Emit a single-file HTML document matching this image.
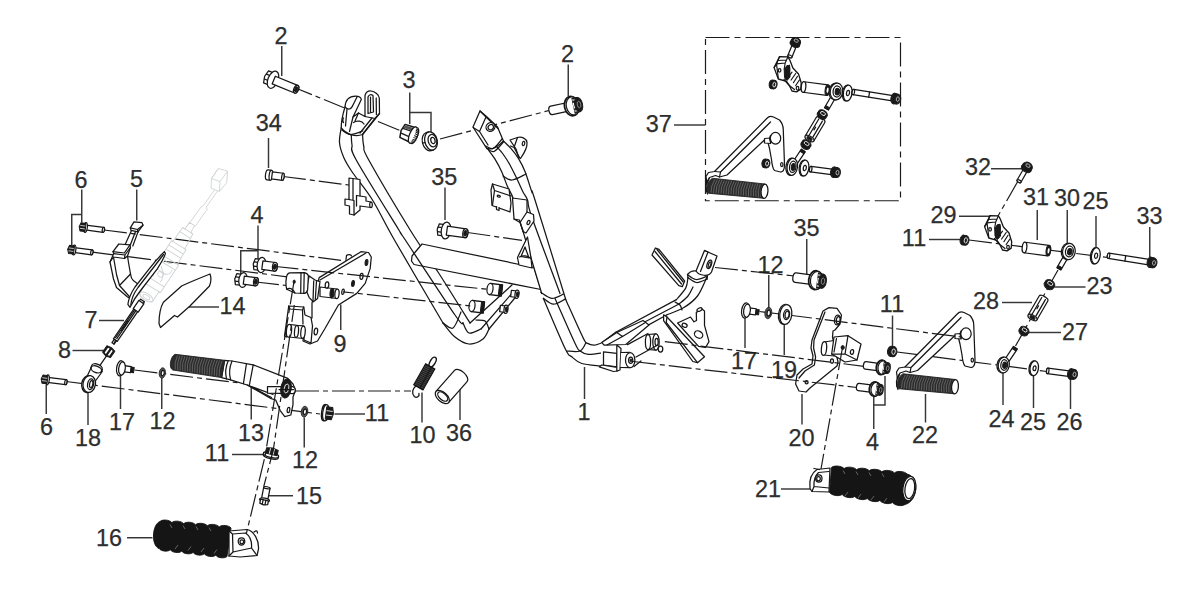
<!DOCTYPE html>
<html><head><meta charset="utf-8"><title>Frame parts diagram</title>
<style>
html,body{margin:0;padding:0;background:#fff;}
body{width:1184px;height:599px;overflow:hidden;font-family:"Liberation Sans",sans-serif;}
svg{display:block}
.t{font-family:"Liberation Sans",sans-serif;font-size:23.4px;fill:#2e2e2e;stroke:#2e2e2e;stroke-width:0.25;text-anchor:middle;}
.l{fill:none;stroke:#363636;stroke-width:1.45}
.c{fill:none;stroke:#1c1c1c;stroke-width:1.2;stroke-dasharray:23 4 5 4}
.p{fill:none;stroke:#161616;stroke-width:1.25;stroke-linejoin:round;stroke-linecap:round}
.pf{fill:#fff;stroke:#161616;stroke-width:1.25;stroke-linejoin:round;stroke-linecap:round}
.pd{fill:#1a1a1a;stroke:#1a1a1a;stroke-width:1;stroke-linejoin:round}
.pg{fill:#555;stroke:#222;stroke-width:0.85;stroke-linejoin:round}
.gh{fill:none;stroke:#cfd2d4;stroke-width:0.9;stroke-linejoin:round}
.ghf{fill:#fff;stroke:#cfd2d4;stroke-width:0.9;stroke-linejoin:round}
</style></head>
<body>
<svg width="1184" height="599" viewBox="0 0 1184 599">
<rect width="1184" height="599" fill="#fff"/>
<text x="281" y="43.6" class="t">2</text>
<text x="268.75" y="131.1" class="t">34</text>
<text x="409" y="88.1" class="t">3</text>
<text x="567.5" y="61.6" class="t">2</text>
<text x="658.75" y="131.6" class="t">37</text>
<text x="444.25" y="184.6" class="t">35</text>
<text x="806.5" y="235.6" class="t">35</text>
<text x="943.5" y="222.6" class="t">29</text>
<text x="914" y="246.1" class="t">11</text>
<text x="978" y="175.1" class="t">32</text>
<text x="1036" y="205.1" class="t">31</text>
<text x="1067" y="205.6" class="t">30</text>
<text x="1095.5" y="209.1" class="t">25</text>
<text x="1149.5" y="223.6" class="t">33</text>
<text x="1099.5" y="293.6" class="t">23</text>
<text x="986" y="308.6" class="t">28</text>
<text x="1075" y="339.6" class="t">27</text>
<text x="892" y="311.6" class="t">11</text>
<text x="770.5" y="273.1" class="t">12</text>
<text x="744" y="369.1" class="t">17</text>
<text x="784" y="377.6" class="t">19</text>
<text x="801.5" y="445.6" class="t">20</text>
<text x="872.5" y="450.1" class="t">4</text>
<text x="925" y="443.1" class="t">22</text>
<text x="768" y="496.6" class="t">21</text>
<text x="1001.5" y="426.6" class="t">24</text>
<text x="1033" y="430.1" class="t">25</text>
<text x="1069.5" y="430.1" class="t">26</text>
<text x="81" y="187.6" class="t">6</text>
<text x="136.5" y="187.1" class="t">5</text>
<text x="257" y="223.1" class="t">4</text>
<text x="232.5" y="314.1" class="t">14</text>
<text x="91" y="327.6" class="t">7</text>
<text x="64.5" y="357.6" class="t">8</text>
<text x="46.5" y="434.6" class="t">6</text>
<text x="88" y="445.6" class="t">18</text>
<text x="122" y="429.6" class="t">17</text>
<text x="162.5" y="428.6" class="t">12</text>
<text x="251" y="440.6" class="t">13</text>
<text x="377" y="421.1" class="t">11</text>
<text x="305" y="467.6" class="t">12</text>
<text x="217" y="461.1" class="t">11</text>
<text x="422.5" y="443.1" class="t">10</text>
<text x="459" y="440.6" class="t">36</text>
<text x="309" y="504.1" class="t">15</text>
<text x="109" y="545.6" class="t">16</text>
<text x="340" y="351.6" class="t">9</text>
<text x="584" y="420.1" class="t">1</text>
<path d="M281.75,46 L281.75,76" class="l"/>
<path d="M268.5,138 L268.5,168" class="l"/>
<path d="M409.75,92.5 L409.75,124" class="l"/>
<path d="M409.75,112.5 L431,112.5 L431,132" class="l"/>
<path d="M568.25,64.5 L568.25,96" class="l"/>
<path d="M674,125 L705.5,125" class="l"/>
<path d="M445,187.5 L445,220" class="l"/>
<path d="M806.75,239 L806.75,274" class="l"/>
<path d="M959,216.25 L990.5,216.25" class="l"/>
<path d="M929,239.5 L960,239.5" class="l"/>
<path d="M991,168.75 L1023,168.75" class="l"/>
<path d="M1037.25,210 L1037.25,240" class="l"/>
<path d="M1067.25,210 L1067.25,244.5" class="l"/>
<path d="M1096,216 L1096,249" class="l"/>
<path d="M1149.75,227 L1149.75,257" class="l"/>
<path d="M1054,287 L1085.5,287" class="l"/>
<path d="M1002,302.5 L1032,302.5" class="l"/>
<path d="M1029,332.5 L1061,332.5" class="l"/>
<path d="M892.5,315.5 L892.5,346" class="l"/>
<path d="M768.75,275 L768.75,308" class="l"/>
<path d="M745,318 L745,348" class="l"/>
<path d="M784.25,325 L784.25,355" class="l"/>
<path d="M802,394 L802,424.5" class="l"/>
<path d="M873.75,397 L873.75,429" class="l"/>
<path d="M873.75,405 L885,405 L885,376" class="l"/>
<path d="M925.5,394 L925.5,422.5" class="l"/>
<path d="M781,489 L811,489" class="l"/>
<path d="M1003,372.5 L1003,405" class="l"/>
<path d="M1033.5,376 L1033.5,408" class="l"/>
<path d="M1070.5,379 L1070.5,409" class="l"/>
<path d="M81.75,189.5 L81.75,222.5" class="l"/>
<path d="M81.75,214.5 L71.75,214.5 L71.75,245" class="l"/>
<path d="M136.75,189.5 L136.75,220.5" class="l"/>
<path d="M258,225.5 L258,259" class="l"/>
<path d="M258,250.75 L240.75,250.75 L240.75,274" class="l"/>
<path d="M187.5,307 L219,307" class="l"/>
<path d="M99,320.5 L124,320.5" class="l"/>
<path d="M72.5,350.5 L104,350.5" class="l"/>
<path d="M46.25,385 L46.25,414" class="l"/>
<path d="M88,392.5 L88,425" class="l"/>
<path d="M120.5,376 L120.5,409" class="l"/>
<path d="M161.75,378 L161.75,409" class="l"/>
<path d="M251.25,386 L251.25,419.5" class="l"/>
<path d="M334.5,414 L365,414" class="l"/>
<path d="M304.25,417.5 L304.25,447.5" class="l"/>
<path d="M232,454.5 L264,454.5" class="l"/>
<path d="M422,392.5 L422,422.5" class="l"/>
<path d="M460,389 L460,420" class="l"/>
<path d="M267,495.75 L293,495.75" class="l"/>
<path d="M127,537.75 L152.5,537.75" class="l"/>
<path d="M340.75,304.5 L340.75,330" class="l"/>
<path d="M584.5,367 L584.5,399" class="l"/>
<path d="M705.5,37.5 H900.5 V200.75 H705.5 Z" class="c" style="stroke-dasharray:24 5 6 5"/>
<path d="M298,89 L344,107.7" class="c" stroke-dashoffset="8"/>
<path d="M378,121.5 L402,131.3" class="c" stroke-dashoffset="0"/>
<path d="M440,139 L551,110" class="c" stroke-dashoffset="0"/>
<path d="M283,176.5 L349,185" class="c" stroke-dashoffset="0"/>
<path d="M467.5,232.5 L522,240.3" class="c" stroke-dashoffset="0"/>
<path d="M104,230 L346,261" class="c" stroke-dashoffset="0"/>
<path d="M92.4,252.2 L287,276.8" class="c" stroke-dashoffset="0"/>
<path d="M256,282 L287,285.5" class="c" stroke-dashoffset="0"/>
<path d="M66,381.5 L320,414" class="c" stroke-dashoffset="0"/>
<path d="M134.5,370 L268,386.5" class="c" stroke-dashoffset="0"/>
<path d="M296,391 L411,391" class="c" stroke-dashoffset="0"/>
<path d="M715,267.5 L794.5,276" class="c" stroke-dashoffset="0"/>
<path d="M897,352 L1047,371.5" class="c" stroke-dashoffset="0"/>
<path d="M969,240 L1108,257.5" class="c" stroke-dashoffset="0"/>
<path d="M1018,181 L998,216" class="c" stroke-dashoffset="0"/>
<path d="M1058,270 L1015.5,346" class="c" stroke-dashoffset="0"/>
<path d="M759.5,311.5 L780,314" class="c" stroke-dashoffset="0"/>
<path d="M341.25,127.5 C341.0,130.0 339.1,137.5 339.5,142.5 C339.9,147.5 341.6,152.5 343.75,157.5 C345.9,162.5 347.7,165.4 352.5,172.5 C357.3,179.6 365.4,188.6 372.5,200 C379.6,211.4 383.2,220.5 395,241 C406.8,261.5 435.0,309.3 443,323 L470,323 C464.7,314.5 448.0,287.5 438,272 C428.0,256.5 421.5,248.4 410,229.75 C398.5,211.1 376.5,173.9 368.75,160 C361.0,146.1 364.8,150.6 363.75,146.25 C362.7,141.9 362.7,135.8 362.5,133.75 Z" class="pf" style="stroke:none"/>
<path d="M443,323 C450,336 460,344 469,344 C478,344 486,338 489,329 L519,293 L512,285 L470,323 Z" class="pf" style="stroke:none"/>
<path d="M362.5,133.75 C362.7,135.8 362.7,141.9 363.75,146.25 C364.8,150.6 361.0,146.1 368.75,160 C376.5,173.9 398.5,211.1 410,229.75 C421.5,248.4 428.0,256.5 438,272 C448.0,287.5 464.7,314.5 470,323" class="p" />
<path d="M422,244 L412,256 L411.5,261 L414,264.5 L541,289.5 L534,267.5 Z" class="pf" />
<path d="M341.25,127.5 C341.0,130.0 339.1,137.5 339.5,142.5 C339.9,147.5 341.6,152.5 343.75,157.5 C345.9,162.5 347.7,165.4 352.5,172.5 C357.3,179.6 365.4,188.6 372.5,200 C379.6,211.4 383.2,220.5 395,241 C406.8,261.5 435.0,309.3 443,323" class="p" />
<path d="M351.25,133.75 C351.4,135.6 351.2,140.6 352,145 C352.8,149.4 348.5,145.9 356.25,160 C364.0,174.1 390.8,216.8 398.75,229.75 C406.7,242.8 394.6,223.8 404,238 C413.4,252.2 445.2,300.8 455,315 C464.8,329.2 461.7,321.7 463,323" class="p" />
<path d="M443,323 C445.0,325.3 450.7,333.5 455,337 C459.3,340.5 464.3,343.7 469,344 C473.7,344.3 479.7,341.5 483,339 C486.3,336.5 488.0,330.7 489,329" class="p" />
<path d="M463,323 C464.0,324.7 466.0,332.0 469,333 C472.0,334.0 479.0,329.7 481,329" class="p" />
<path d="M443,323 C444.7,323.8 450.0,329.8 453,328 C456.0,326.2 459.7,314.7 461,312" class="p" />
<path d="M476,320 C477.5,320.2 482.8,319.5 485,321 C487.2,322.5 488.3,327.7 489,329" class="p" />
<path d="M470,323 L512,285" class="p" />
<path d="M489,329 L519,293" class="p" />
<path d="M481,329 L514,291" class="p" />
<g transform="translate(490 289) rotate(7)">
<path d="M0,-5.6 L12,-5.6 L12,5.6 L0,5.6 Z" class="pf" />
<path d="M9,-5.6 L12,-5.6 L12,5.6 L9,5.6 Z" class="pd" />
<ellipse cx="0" cy="0" rx="3" ry="5.6" class="pf" />
</g>
<g transform="translate(472 306) rotate(7)">
<path d="M0,-5.6 L12,-5.6 L12,5.6 L0,5.6 Z" class="pf" />
<path d="M9,-5.6 L12,-5.6 L12,5.6 L9,5.6 Z" class="pd" />
<ellipse cx="0" cy="0" rx="3" ry="5.6" class="pf" />
</g>
<g transform="translate(515 294) rotate(7)">
<path d="M-4,-3.2 L2,-3.2 L2,3.2 L-4,3.2 Z" class="pf" />
<ellipse cx="2" cy="0" rx="2" ry="4.2" class="pf" />
<ellipse cx="2.4" cy="0" rx="1.1" ry="2.4" class="pd" />
</g>
<g transform="translate(504 309) rotate(7)">
<path d="M-4,-3.2 L2,-3.2 L2,3.2 L-4,3.2 Z" class="pf" />
<ellipse cx="2" cy="0" rx="2" ry="4.2" class="pf" />
<ellipse cx="2.4" cy="0" rx="1.1" ry="2.4" class="pd" />
</g>
<path d="M488.4,150 C489.5,151.5 492.8,155.6 495,159.2 C497.2,162.8 499.6,167.2 501.7,171.8 C503.8,176.4 505.6,182.1 507.6,186.8 C509.6,191.5 510.7,191.1 513.7,200 C516.7,208.9 520.9,224.4 525.6,240 C530.3,255.6 539.0,284.6 541.7,293.5 L565.9,300 C560.8,283.3 540.7,218.0 535,200 C529.3,182.0 533.4,196.5 531.8,191.8 C530.1,187.1 527.3,177.4 525.1,171.8 C522.9,166.2 520.8,162.3 518.4,158.4 C516.0,154.5 513.4,151.3 510.9,148.4 C508.4,145.5 504.6,142.2 503.4,140.9 Z" class="pf" style="stroke:none"/>
<path d="M488.4,150 C489.5,151.5 492.8,155.6 495,159.2 C497.2,162.8 499.6,167.2 501.7,171.8 C503.8,176.4 505.6,182.1 507.6,186.8 C509.6,191.5 510.7,191.1 513.7,200 C516.7,208.9 520.9,224.4 525.6,240 C530.3,255.6 539.0,284.6 541.7,293.5" class="p" />
<path d="M503.4,140.9 C504.6,142.2 508.4,145.5 510.9,148.4 C513.4,151.3 516.0,154.5 518.4,158.4 C520.8,162.3 522.9,166.2 525.1,171.8 C527.3,177.4 530.1,187.1 531.8,191.8 C533.4,196.5 529.3,182.0 535,200 C540.7,218.0 560.8,283.3 565.9,300" class="p" />
<path d="M496,146 C497.2,147.3 500.7,150.8 503,154 C505.3,157.2 507.7,160.8 510,165 C512.3,169.2 514.8,174.5 517,179 C519.2,183.5 521.2,188.5 523,192 C524.8,195.5 526.0,195.9 527.5,200 C529.0,204.1 526.3,201.1 531.7,216.7 C537.1,232.3 555.3,280.7 560,293.5" class="p" />
<path d="M503,176 C504.5,176.7 508.2,180.3 512,180 C515.8,179.7 523.7,175.0 526,174" class="p" />
<path d="M543.4,298.4 C547.0,306.7 560.4,338.7 565.1,348.4 C569.8,358.1 568.9,354.3 571.7,356.8 C574.5,359.3 577.1,362.0 581.8,363.5 C586.5,365.0 597.0,365.6 600.1,366 L602.6,342.6 C601.2,343.0 596.8,345.0 594.3,345.1 C591.8,345.2 589.4,344.5 587.6,343.4 C585.8,342.3 587.0,345.6 583.4,338.4 C579.8,331.2 568.8,306.4 565.9,300 Z" class="pf" style="stroke:none"/>
<path d="M543.4,298.4 C547.0,306.7 560.4,338.7 565.1,348.4 C569.8,358.1 568.9,354.3 571.7,356.8 C574.5,359.3 577.1,362.0 581.8,363.5 C586.5,365.0 597.0,365.6 600.1,366" class="p" />
<path d="M565.9,300 C568.8,306.4 579.8,331.2 583.4,338.4 C587.0,345.6 585.8,342.3 587.6,343.4 C589.4,344.5 591.8,345.2 594.3,345.1 C596.8,345.0 601.2,343.0 602.6,342.6" class="p" />
<path d="M555,298.4 C558.4,305.9 570.9,334.6 575.1,343.4 C579.3,352.2 577.9,349.2 580.1,351 C582.3,352.8 584.5,354.0 588.4,354.3 C592.3,354.6 601.0,352.9 603.5,352.6" class="p" />
<path d="M540.9,292.5 C542.7,293.5 548.0,298.1 551.7,298.4 C555.5,298.7 561.5,294.9 563.4,294.2" class="p" />
<path d="M543.4,298.4 C545.1,299.4 549.8,304.1 553.4,304.2 C557.0,304.3 563.1,300.0 565,299.2" class="p" />
<path d="M566.7,351 C568.9,351.0 576.8,352.4 580,351 C583.2,349.6 585.0,344.0 586,342.6" class="p" />
<path d="M601,343 L615.7,332.3 L676.4,299.6 L685.8,287.9 L688,277.4 L706.8,277.4 L697.5,296 L683.5,307.8 L667,314.8 L620,342 L601,366 Z" class="pf" style="stroke:none"/>
<path d="M601.7,342.8 L615.7,332.3" class="p" />
<path d="M615.7,332.3 L676.4,299.6" class="p" />
<path d="M676.4,299.6 C678.0,297.7 683.9,291.6 685.8,287.9 C687.7,284.2 687.6,279.1 688,277.4" class="p" />
<path d="M643.7,327.6 L667,314.8" class="p" />
<path d="M667,314.8 C669.8,313.6 678.4,310.9 683.5,307.8 C688.6,304.7 693.6,301.1 697.5,296 C701.4,290.9 705.2,280.5 706.8,277.4" class="p" />
<path d="M618,336 L679,304" class="p" />
<path d="M679,304 C680.5,302.7 685.7,298.8 688,296 C690.3,293.2 692.2,288.5 693,287" class="p" />
<path d="M675,302 C675.8,302.5 678.8,303.7 680,305 C681.2,306.3 681.7,309.2 682,310" class="p" />
<path d="M341.3,128 C341,120 343.5,112 345,107 C345.5,99 350,96 355.5,96 C359,96 361,97.5 361.3,99.4 L353,117 L358.5,113 L365,116.5 L365,95.5 C366,92 368.5,90.8 371,91 C375,91.5 379,95 379.3,98 L379.5,113.5 L362.5,134.5 C356,137 347,135 341.3,128 Z" class="pf" />
<path d="M345,107 C348,110 351,110 353,105 L357,97" class="p" />
<path d="M353,117 L349.5,131.5 M358.5,113 L355,121 M347,109 L345.5,126" class="p" />
<path d="M368,113.5 L368,97 C369,94.5 371,94 373,95.5 L373.5,112 M370.5,112 L370.5,97 M376.2,98 L376.4,114.5 M365,116.5 L375,118.5 L379.5,113.5 M373.5,112 L368,113.5" class="p" />
<path d="M353.5,122.5 C357,120 362,121 364,124 M362.5,134.5 L375,118.5 M360,133 L372,118" class="p" />
<path d="M341.8,130 C343.2,130.8 346.5,134.3 350,134.5 C353.5,134.7 360.7,131.6 362.8,131" class="p" />
<path d="M343.5,118 C342.5,119.5 342.5,121.5 343.5,122.5" class="p" />
<path d="M349,178 L360,179.5 L360,196 L366,197 L366,201 L371,202 L371,207.5 L360,206 L360,210 L354,215 L349.5,214 L349.5,206 L345,205 L345,199 L349,199.5 Z" class="pf" />
<path d="M353,178.7 L353,200 M349,199.5 L354,200.5 L354,215 M360,196 L356.5,195.5 L356.5,206" class="p" />
<ellipse cx="371" cy="204.8" rx="1.3" ry="2.8" class="pf" />
<path d="M480,111 L473,127 L475.5,131 L486.7,148.4 C492,150.5 499,146 503.4,140.9 L497.5,127 L486.5,116.5 Z" class="pf" />
<path d="M480,111 L486,117 L479.5,131.5 L473.2,127.5 M479.5,131.5 L488,145 M486,117 L498,128.5" class="p" />
<ellipse cx="490.5" cy="127" rx="4.6" ry="4.2" class="pf" transform="rotate(-35 490.5 127)" />
<ellipse cx="490.8" cy="127.2" rx="2.8" ry="2.5" class="p" transform="rotate(-35 490.8 127.2)" />
<path d="M485.5,146 C486.8,146.4 490.2,149.7 493,148.5 C495.8,147.3 500.5,140.6 502,139" class="p" />
<path d="M486.7,148.4 C487.9,148.9 491.1,152.7 494,151.5 C496.9,150.3 502.2,143.2 503.8,141.5" class="p" />
<path d="M510,140 L517.5,137.5 C522,136.5 526.5,138.5 527,142.5 C527.5,147 525,152 520.5,158.5 L518.5,157 L516,149 Z" class="pf" />
<path d="M517.5,137.5 L514,147.5 L519.5,157.5 M514,147.5 L510.5,146" class="p" />
<ellipse cx="523.5" cy="143.5" rx="1.2" ry="2.2" class="pf" transform="rotate(15 523.5 143.5)" />
<path d="M492.5,184 L509,189 L511,203 L510,212 L492,205.5 L491,190 Z" class="pf" />
<path d="M492.5,184 L494.5,190.5 L511,196 M494.5,190.5 L492.5,205" class="p" />
<ellipse cx="498.8" cy="196.2" rx="1.6" ry="0.9" class="p" transform="rotate(10 498.8 196.2)" />
<path d="M496.5,206.5 L496.5,209.5 L499,210.5 L499,207.5" class="pf" />
<path d="M512.5,198 L527,200 L527,212 L533.5,214.5 L534,221 L526,233 L523,231.5 L519.5,220 L514,219 Z" class="pf" />
<path d="M527,212 L520,222.5 L523.5,232 M520,222.5 L514,219" class="p" />
<ellipse cx="528.5" cy="222.5" rx="1.3" ry="2.2" class="pf" transform="rotate(25 528.5 222.5)" />
<path d="M527.5,237 L517.5,257.5 L519,265 L532,268 L531,258 Z" class="pf" />
<path d="M525,247 L521,256.5 L529,258 Z M519.5,257 C523,255 528,255.5 531,258.5" class="p" />
<path d="M696,271 L704.5,250.5 L717,256 L711.5,272 C709,277 699,276 696,271 Z" class="pf" />
<path d="M704.5,250.5 L708,252 L700.5,271.5" class="p" />
<ellipse cx="709.3" cy="264.3" rx="2.1" ry="4.4" class="pf" transform="rotate(20 709.3 264.3)" />
<ellipse cx="709.6" cy="264.6" rx="1.1" ry="2.8" class="p" transform="rotate(20 709.6 264.6)" />
<path d="M687.5,274.5 C688.9,275.3 692.7,279.2 696,279.5 C699.3,279.8 705.6,276.6 707.5,276" class="p" />
<path d="M688,277.6 C689.4,278.4 693.3,282.2 696.5,282.5 C699.7,282.8 705.2,279.8 707,279.2" class="p" />
<path d="M687.5,274.5 C690,271.5 693,270.5 696,271 M707.5,276 L707,279.2 M687.5,274.5 L688,277.6" class="p" />
<path d="M652,255 L655.4,248 L659,249.3 L684.6,281 L682.3,286.7 L678.8,285.6 Z" class="pf" />
<path d="M655,251.5 L681.5,284 M657,249.5 L683.2,282" class="p" />
<path d="M677.6,323 L690.5,317 L694,321.8 L696.5,320.5 L696.3,312.4 L702,309 L704.5,311 L704.5,325.3 L709,341.6 L705.6,347.5 L698.6,346.3 L690,337 Z" class="pf" />
<ellipse cx="699.5" cy="309.6" rx="2.7" ry="1.5" class="pf" transform="rotate(-25 699.5 309.6)" />
<ellipse cx="684.6" cy="325.3" rx="2.6" ry="1.9" class="p" transform="rotate(25 684.6 325.3)" />
<ellipse cx="698.6" cy="334.6" rx="4.4" ry="3.4" class="p" transform="rotate(30 698.6 334.6)" />
<path d="M663.6,314.8 L667,317 L704.5,356.8 L697.5,362.7 L692.8,361.5 L663.6,320.6 Z" class="pf" />
<path d="M667,317 L666.2,322.5 L697.5,362.7" class="p" />
<path d="M648,334.5 L656,333.8 L656,350.2 L648,349.5 Z" class="pf" />
<ellipse cx="648" cy="342" rx="2.6" ry="7.5" class="pf" />
<ellipse cx="656" cy="342" rx="3.2" ry="8.2" class="pf" />
<ellipse cx="656.6" cy="342" rx="1.6" ry="3.6" class="p" />
<ellipse cx="660.5" cy="349" rx="2.3" ry="3" class="pf" />
<path d="M601.8,342.6 L616.8,332.5 L643,320.5 L649,325 L625.8,344.5 L604.3,345.2 Z" class="pf" />
<path d="M616.8,332.5 L622.5,336.5 L644.5,323 M622.5,336.5 L607,345" class="p" />
<path d="M603.5,351.8 L616.8,353.4 L616.8,366.8 L603.5,365.1 Z" class="pf" />
<path d="M599.3,366.8 L601.8,365 L618.5,367.6 L617.6,371 L613.5,371.5 Z" class="pf" />
<path d="M616.8,345 L621,348.4 L620,370 L616.8,371 Z" class="pf" />
<path d="M621,352.5 L630,352.3 L630,367.6 L620.5,367.5" class="pf" />
<ellipse cx="630.2" cy="360.1" rx="4.7" ry="7.6" class="pf" />
<ellipse cx="630.7" cy="360.3" rx="2.1" ry="3.2" class="p" />
<ellipse cx="630.9" cy="360.4" rx="0.9" ry="1.4" class="pd" />
<path d="M627.5,344.6 L648,333.5 M636,357 L656,346 M634,366.5 L641,361" class="p" />
<g transform="translate(273 79.7) rotate(22.4)">
<path d="M0,-6.5 L-7.5,-6.5 L-9.06,0 L-7.5,6.5 L0,6.5 Z" class="pf" />
<path d="M0,-2.6 L-8.15,-2.6 M0,2.6 L-8.15,2.6" class="p" />
<ellipse cx="0" cy="0" rx="5.040000000000001" ry="9.0" class="pf" />
<path d="M0.82,-4.1 L25,-4.1 A2.296,4.1 0 0 1 25,4.1 L0.82,4.1 Z" class="pf" />
<ellipse cx="25" cy="0" rx="2.296" ry="4.1" class="pf" />
<ellipse cx="25" cy="0" rx="1.3776" ry="2.4599999999999995" class="pd" />
</g>
<g transform="translate(573.5 105.7) rotate(168)">
<path d="M0,-4.3 L22.5,-4.3 A2.5799999999999996,4.3 0 0 1 22.5,4.3 L0,4.3 Z" class="pf" />
<ellipse cx="2" cy="0" rx="7.02" ry="9.75" class="pf" style="stroke-width:1.8"/>
<ellipse cx="0.6" cy="0" rx="6.630000000000001" ry="9.165" class="pf" style="stroke-width:1.2"/>
<path d="M0,-7.800000000000001 L-5.265000000000001,-7.176000000000001 L-5.265000000000001,7.176000000000001 L0,7.800000000000001 Z" class="pd" />
<path d="M0.2,-2.8080000000000003 L-4.875,-2.6520000000000006 L-4.875,2.6520000000000006 L0.2,2.8080000000000003 Z" fill="#fff"/>
<path d="M0.2,-6.630000000000001 L-3.9000000000000004,-6.240000000000001 L-3.9000000000000004,-4.290000000000001 L0.2,-4.524 Z M0.2,6.630000000000001 L-3.9000000000000004,6.240000000000001 L-3.9000000000000004,4.290000000000001 L0.2,4.524 Z" fill="#999"/>
<ellipse cx="-5.265000000000001" cy="0" rx="3.9000000000000004" ry="7.254000000000001" class="pd" />
<ellipse cx="-5.654999999999999" cy="0" rx="1.755" ry="3.2760000000000002" fill="none" stroke="#999" stroke-width="0.8"/>
</g>
<g transform="translate(409 133.5) rotate(22)">
<path d="M-7,-7 L3.5,-7.8 L3.5,7.8 L-7,7 L-8.5,0 Z" class="pf" style="stroke-width:1.5"/>
<path d="M-7.4,-2.6 L3.5,-3 M-7.4,2.6 L3.5,3" stroke="#161616" stroke-width="1.2" fill="none"/><path d="M-6.6,-6.3 L3,-7 L3,-3.6 L-7.2,-3.2 Z" fill="#555"/>
<ellipse cx="4" cy="0" rx="3.2" ry="8.6" class="pf" />
<path d="M4,-8.6 L6.5,-8.2 A3,8.4 0 0 1 6.5,8.2 L4,8.6" class="pf" />
<path d="M5.2,-7 L7.8,-6.5 M5.8,-4 L8.8,-3.6 M6,0 L9.2,0 M5.8,4 L8.8,3.6 M5.2,7 L7.8,6.5 M5.6,-5.5 L8.2,-5 M6,-2 L9,-1.8 M6,2 L9,1.8 M5.6,5.5 L8.2,5" class="p" style="stroke-width:1"/>
</g>
<g transform="translate(431 141) rotate(-14)">
<ellipse cx="-2.5" cy="0" rx="6.2" ry="9.3" class="pf" />
<ellipse cx="0" cy="0" rx="6.2" ry="9.3" class="pf" />
<path d="M-2.5,-9.3 L0,-9.3 M-2.5,9.3 L0,9.3 M-8.7,0 L-6.2,0" class="p" />
<ellipse cx="1.5" cy="0" rx="4.3" ry="6.3" class="p" />
<ellipse cx="2" cy="0" rx="2.1" ry="3.2" class="p" />
</g>
<g transform="translate(267.5 174.8) rotate(7.5)">
<path d="M0,-5 L3.5,-5 L3.5,5 L0,5 A2,5 0 0 1 0,-5 Z" class="pf" />
<ellipse cx="3.5" cy="0" rx="1.8" ry="5" class="pf" />
<path d="M4.5,-3.6 L15.5,-3.6 A1.2,3.6 0 0 1 15.5,3.6 L4.5,3.6 Z" class="pf" />
<ellipse cx="15.5" cy="0" rx="1.2" ry="3.6" class="pf" />
</g>
<g transform="translate(85.5 227.5) rotate(7.5)">
<path d="M0,-2.5 L18,-2.5 A1.2,2.5 0 0 1 18,2.5 L0,2.5 Z" class="pf" />
<ellipse cx="18" cy="0" rx="1.1" ry="2.5" class="pf" />
<ellipse cx="0" cy="0" rx="1.8" ry="5" class="pf" />
<path d="M0,-4.1 L-5,-4.1 L-6.4,0 L-5,4.1 L0,4.1 Z" class="pd" />
<path d="M-5.4,-1.4 L-0.5,-1.4 M-5.4,1.5 L-0.5,1.5" stroke="#fff" stroke-width="0.7" fill="none"/>
</g>
<g transform="translate(74 250) rotate(7.5)">
<path d="M0,-2.5 L18,-2.5 A1.2,2.5 0 0 1 18,2.5 L0,2.5 Z" class="pf" />
<ellipse cx="18" cy="0" rx="1.1" ry="2.5" class="pf" />
<ellipse cx="0" cy="0" rx="1.8" ry="5" class="pf" />
<path d="M0,-4.1 L-5,-4.1 L-6.4,0 L-5,4.1 L0,4.1 Z" class="pd" />
<path d="M-5.4,-1.4 L-0.5,-1.4 M-5.4,1.5 L-0.5,1.5" stroke="#fff" stroke-width="0.7" fill="none"/>
</g>
<g transform="translate(47.5 379.8) rotate(7.5)">
<path d="M0,-2.5 L18.5,-2.5 A1.2,2.5 0 0 1 18.5,2.5 L0,2.5 Z" class="pf" />
<ellipse cx="18.5" cy="0" rx="1.1" ry="2.5" class="pf" />
<ellipse cx="0" cy="0" rx="1.8" ry="5" class="pf" />
<path d="M0,-4.1 L-5,-4.1 L-6.4,0 L-5,4.1 L0,4.1 Z" class="pd" />
<path d="M-5.4,-1.4 L-0.5,-1.4 M-5.4,1.5 L-0.5,1.5" stroke="#fff" stroke-width="0.7" fill="none"/>
</g>
<g transform="translate(261.5 265) rotate(7.5)">
<path d="M0,-5.5 L-7,-5.5 L-8.32,0 L-7,5.5 L0,5.5 Z" class="pf" />
<path d="M0,-2.2 L-7.55,-2.2 M0,2.2 L-7.55,2.2" class="p" />
<ellipse cx="0" cy="0" rx="4.340000000000001" ry="7.75" class="pf" />
<path d="M0.86,-4.3 L13.5,-4.3 A2.408,4.3 0 0 1 13.5,4.3 L0.86,4.3 Z" class="pf" />
<ellipse cx="13.5" cy="0" rx="2.408" ry="4.3" class="pf" />
<ellipse cx="13.5" cy="0" rx="1.4447999999999999" ry="2.5799999999999996" class="pd" />
</g>
<g transform="translate(243 280) rotate(7.5)">
<path d="M0,-5.5 L-7,-5.5 L-8.32,0 L-7,5.5 L0,5.5 Z" class="pf" />
<path d="M0,-2.2 L-7.55,-2.2 M0,2.2 L-7.55,2.2" class="p" />
<ellipse cx="0" cy="0" rx="4.2" ry="7.5" class="pf" />
<path d="M0.82,-4.1 L13,-4.1 A2.296,4.1 0 0 1 13,4.1 L0.82,4.1 Z" class="pf" />
<ellipse cx="13" cy="0" rx="2.296" ry="4.1" class="pf" />
<ellipse cx="13" cy="0" rx="1.3776" ry="2.4599999999999995" class="pd" />
</g>
<path d="M218.2,168.5 L227.6,171.2 L226.7,182.7 L219.5,191.5 L211,188 L211.5,178.7 Z M218.2,168.5 L211.5,178.7 L220,181.5 L227.6,171.2 M220,181.5 L219.5,191.5" class="gh" />
<path d="M214.5,190 L203.5,205.5 M217.3,191.2 L206.5,206.8 M203.5,205.5 L201,207 L188.5,224.5 M206.5,206.8 L207,209.5 L195,226.5" class="gh" />
<g transform="translate(192 224) rotate(122)">
<path d="M0,-3 L8,-3.5 L8,-6 L25,-7 L25,-8.5 L42,-9 L42,-10.5 L75,-9.5 L75,-8 L86,-7.5 A3.5,7.5 0 0 1 86,7.5 L75,8 L75,9.5 L42,10.5 L42,9 L25,8.5 L25,7 L8,6 L8,3.5 L0,3 Z" class="gh" />
<path d="M8,-6 L8,6 M25,-8.5 L25,8.5 M42,-10.5 L42,10.5 M75,-9.5 L75,9.5 M13,-6.3 L13,6.3 M30,-8.7 L30,8.7 M35,-8.8 L35,8.8 M48,-10.3 L48,10.3 M68,-9.7 L68,9.7" class="gh" />
<path d="M50,-7 C54,-10 59,-3 57,2 C55,7 60,9 65,5 M52,4 C55,0 60,-5 66,-4 M44,-4 C47,-1 46,3 44,5" class="gh" />
<ellipse cx="86" cy="0" rx="3.5" ry="7.5" class="gh" />
<ellipse cx="86" cy="0" rx="1.8" ry="4" class="gh" />
<ellipse cx="59" cy="0" rx="3" ry="3" class="gh" />
</g>
<path d="M118.8,244 L113,251.6 L113.7,253.6 L110,262 L113.5,279 L116.5,287.5 L127.5,297 L131.5,299 L141,284.5 C134,283 131,279.5 130.5,274 L128.5,262.5 L127.5,256 L130.5,247.5 L130,244.9 Z" class="pf" />
<path d="M113.7,253.6 L124.9,255 L130.5,247.5 M124.9,255 L124.5,258.5 L127.5,256 M113,251.6 L124.3,253 L130,244.9 M124.5,258.5 L113.5,257 L110,262 M113.5,257 L116.5,274.5 L119.5,285.5 L131.5,299 M119.5,285.5 L130.5,274" class="p" />
<path d="M134,221.8 L142,222.6 L143,225.2 L138,231.9 L131,230.3 L130.3,227.8 Z" class="pf" />
<path d="M130.3,227.8 L137.5,229.5 L143,225.2 M137.5,229.5 L138,231.9" class="p" />
<path d="M131.5,230.5 L125.5,243.8 M135.5,231.5 L130.5,244.5 M138,231.9 L132.8,246" class="p" />
<path d="M164.4,251.6 C158,258 153,264 149.2,268.8 L135,287 C131,293 128.5,299 127.9,304.3 L130,307.3 C133,301 137,295 141,290 L157.3,268.8 C161,263 164,258 165.4,253.6 Z" class="pf" />
<path d="M163.5,254.5 L138,287.5 C134,293 131.5,299 130.8,304.5" class="p" />
<path d="M210,274 C200,278 190,282 181.6,286 L163.4,302.2 C160,308 159,318 159,323.5 L160.5,327.5 L174.5,315.5 L177.5,317 L189.7,306.3 L209.5,286 C211,282 211.5,278 210,274 Z" class="pf" />
<g transform="translate(142.5 300.5) rotate(124.5)">
<path d="M0,-2.3 L48,-2.3 L48,2.3 L0,2.3 Z" class="pf" />
<path d="M10,-0.4 L46,-0.4 M10,1.2 L46,1.2" class="p" />
<path d="M2,-3 L12,-3 L12,3 L2,3 Z" class="pf" />
<path d="M48,-1.3 L52,-1.3 L52,1.3 L48,1.3 Z" class="pf" />
</g>
<path d="M128,321 L121.5,330.5" class="p" />
<g transform="translate(108.5 352) rotate(124.5)">
<path d="M-4.2,-4.8 L3.4,-4.8 L4.8,0 L3.4,4.8 L-4.2,4.8 L-5.2,0 Z" class="pd" />
<path d="M-3.2,-2.9 L2.6,-2.9 L3.2,-1.2 L-3.6,-1.2 Z M-3.6,1 L3.2,1 L2.6,2.8 L-3.2,2.8 Z" fill="#fff" stroke="none"/>
</g>
<path d="M99.8,365.6 L106.2,356.3 M113.8,344 L115.2,341" class="p" />
<path d="M91,368 L102.3,371.5 L95.4,381 L86.8,377 Z" class="pf" />
<ellipse cx="96.9" cy="367.3" rx="5.5" ry="3.2" class="pf" transform="rotate(20 96.9 367.3)" />
<ellipse cx="96.3" cy="369.3" rx="5.5" ry="3.2" class="pf" transform="rotate(20 96.3 369.3)" />
<path d="M91.3,366.5 L90.8,368.5 M102.3,369.5 L101.7,371.5" class="p" />
<ellipse cx="87.9" cy="384.2" rx="6.2" ry="8.5" class="pf" transform="rotate(10 87.9 384.2)" style="stroke-width:1.3"/>
<ellipse cx="89.2" cy="384" rx="6.2" ry="8.5" class="pf" transform="rotate(10 89.2 384)" style="stroke-width:1.3"/>
<ellipse cx="90.6" cy="384.2" rx="3" ry="5.4" class="pf" transform="rotate(10 90.6 384.2)" />
<ellipse cx="91.2" cy="384.2" rx="1.6" ry="3.6" class="p" transform="rotate(10 91.2 384.2)" />
<g transform="translate(120.5 368.3) rotate(7.5)">
<path d="M2,-3.1 L10.5,-3.1 L10.5,3.1 L2,3.1 Z" class="pf" />
<path d="M10.5,-2.6 L13.5,-2.6 L13.5,2.6 L10.5,2.6 Z" class="pd" />
<ellipse cx="0" cy="0" rx="3.9" ry="7.6" class="pf" />
<ellipse cx="1.5" cy="0" rx="3.3" ry="6.6" class="pf" />
</g>
<g transform="translate(162.3 373) rotate(7.5)">
<ellipse cx="0" cy="0" rx="3.1" ry="5.2" class="pg" />
<ellipse cx="0.4" cy="0" rx="1.5" ry="2.6" class="pf" />
</g>
<path d="M224.6,360.3 L232,361 L253,364.8 L287.8,378.3 L293,384 L295.5,390.4 L293,397 L293,404.6 L290.8,415 L284.8,416.7 L280.2,410.6 L275.7,400 L271.2,398.6 L247.2,385 L230.6,379.8 L221.6,377.6 Z" class="pf" />
<path d="M246.4,364 L243.4,383.6 M253.2,364.8 L249.4,385 M232,361 C229.5,367 229,374 230.6,379.8 M228.2,360.8 C225.5,367 225,373 226.5,378.8" class="p" />
<path d="M247.2,385 L273,394.5 M249,385.5 L271.5,397.5" class="p" />
<path d="M267.5,386.6 L293,386.6 C296,387.5 296,393 293,393.6 L267.5,393.2 Z" class="pf" />
<ellipse cx="286" cy="388.5" rx="5.2" ry="9.6" class="pd" transform="rotate(10 286 388.5)" />
<ellipse cx="286.5" cy="388.5" rx="2.2" ry="4.5" transform="rotate(10 286.5 388.5)" fill="none" stroke="#fff" stroke-width="0.8"/>
<path d="M279,389.5 L293.5,389.5" class="p" />
<ellipse cx="288.5" cy="410" rx="1.3" ry="2.7" class="p" transform="rotate(8 288.5 410)" />
<path d="M175,354.3 L224.6,360.3 L221.6,377.6 L172.8,370 C168.3,368 170.5,356.3 175,354.3 Z" fill="#2b2b2b" stroke="#222" stroke-width="0.9"/>
<path d="M177.5,355.4 Q174.2,362.5 175.2,369.6 M180.0,355.7 Q176.6,362.8 177.7,370.0 M182.4,356.0 Q179.1,363.2 180.1,370.3 M184.9,356.3 Q181.5,363.5 182.6,370.7 M187.4,356.6 Q184.0,363.9 185.0,371.1 M189.9,356.9 Q186.5,364.2 187.4,371.5 M192.4,357.2 Q188.9,364.5 189.9,371.9 M194.8,357.5 Q191.4,364.9 192.3,372.2 M197.3,357.8 Q193.8,365.2 194.8,372.6 M199.8,358.1 Q196.3,365.6 197.2,373.0 M202.3,358.4 Q198.8,365.9 199.6,373.4 M204.8,358.7 Q201.2,366.2 202.1,373.8 M207.2,359.0 Q203.7,366.6 204.5,374.1 M209.7,359.3 Q206.1,366.9 207.0,374.5 M212.2,359.6 Q208.6,367.2 209.4,374.9 M214.7,359.9 Q211.1,367.6 211.8,375.3 M217.2,360.2 Q213.5,367.9 214.3,375.7 M219.6,360.5 Q216.0,368.3 216.7,376.0 M222.1,360.8 Q218.4,368.6 219.2,376.4 " fill="none" stroke="#858585" stroke-width="0.6"/>
<path d="M361,251.7 L368.5,252.5 L371.3,257 L370.2,268.4 L365.2,283.4 L356.8,293.4 L338.4,305 L325,328.5 L317.5,341 L310,344 L303,341 L304.5,323 L312,318 L312,303 L319.2,277.6 Z" class="pf" />
<path d="M366,253 L320,280" class="p" />
<path d="M346,259.5 L346.5,255.5 C348,254 351,254.3 351.5,256" class="pf" />
<ellipse cx="366.5" cy="262.5" rx="1.4" ry="3" class="pd" transform="rotate(8 366.5 262.5)" />
<ellipse cx="361.5" cy="276.4" rx="1.5" ry="3" class="p" transform="rotate(8 361.5 276.4)" />
<ellipse cx="353" cy="283.4" rx="1.4" ry="3" class="pd" transform="rotate(8 353 283.4)" />
<ellipse cx="343" cy="291.8" rx="1.2" ry="2.7" class="p" transform="rotate(8 343 291.8)" />
<ellipse cx="315.9" cy="331.5" rx="1.7" ry="3.4" class="p" transform="rotate(8 315.9 331.5)" />
<path d="M309.2,275.9 L315,280 L320,281.7 L317.6,298.4 L313.4,301.8 L309.2,297.6 L306,290 Z" class="pf" />
<path d="M313.7,280.9 L313,301 M316.5,281.2 L315.3,299.5" class="p" />
<path d="M286.7,275.9 C287.5,273.8 288.8,272.9 290,272.9 L304.2,272.6 C306.5,273 308,274.5 308.4,275.9 L307.6,290 C307,292 305.5,293.2 304.2,293.4 L295,293 L286.7,289.2 C286,287 285.9,284 285.9,281.7 Z" class="pf" />
<path d="M304.2,272.6 L303.8,293.4 M301,272.7 L300.7,293.2 M286.7,289.2 C289,287.5 293,288 295,293" class="p" />
<ellipse cx="294.2" cy="281.7" rx="1.1" ry="1.6" class="pd" />
<path d="M320,287 L337,289 L337,298.5 L320,296.5 Z" class="pf" />
<ellipse cx="337" cy="293.8" rx="2.1" ry="4.8" class="pf" transform="rotate(5 337 293.8)" />
<ellipse cx="332" cy="293.2" rx="2" ry="4.8" class="pd" transform="rotate(5 332 293.2)" />
<ellipse cx="327" cy="285" rx="1.8" ry="3.2" class="pf" transform="rotate(5 327 285)" />
<path d="M288.75,306 L303.75,307 L305,315 L311,317.5 L312.5,326 L311,343 L304,340 L304,326 L291,325 L286.5,337 L284.5,336 Z" class="pf" />
<path d="M288.75,306 L290,309 L302.5,310 L303.75,307 M302.5,310 L303,324" class="p" />
<path d="M289,324.5 L303,326 L303,338.5 L289,337 Z" class="pf" />
<ellipse cx="289" cy="330.8" rx="2.6" ry="6.4" class="pf" transform="rotate(5 289 330.8)" />
<ellipse cx="296.5" cy="331.5" rx="2" ry="5.8" class="p" transform="rotate(5 296.5 331.5)" />
<ellipse cx="303" cy="332.2" rx="2.2" ry="6.2" class="pf" transform="rotate(5 303 332.2)" />
<g transform="translate(430.2 366.5) rotate(119.5)">
<ellipse cx="-5" cy="0" rx="5.5" ry="2.6" class="p" style="stroke-width:1.4"/>
<path d="M0,-5.2 L24,-5.2 L24,5.2 L0,5.2 Z" fill="#1e1e1e" stroke="#111" stroke-width="1.3"/>
<path d="M1.2,-5 L2.0,5 M3.1,-5 L3.9,5 M5.0,-5 L5.8,5 M6.9,-5 L7.7,5 M8.8,-5 L9.6,5 M10.7,-5 L11.5,5 M12.6,-5 L13.4,5 M14.5,-5 L15.3,5 M16.4,-5 L17.2,5 M18.3,-5 L19.1,5 M20.2,-5 L21.0,5 M22.1,-5 L22.9,5" stroke="#5a5a5a" stroke-width="0.6" fill="none"/>
<path d="M0,-1.5 L24,-1.5" stroke="#1a1a1a" stroke-width="1.2" fill="none"/>
<path d="M24,3 C28,4.5 33,3 34,-1 C34.5,-4 31,-5.5 29,-3.5" class="p" style="stroke-width:1.3"/>
</g>
<g transform="translate(442.3 397) rotate(-48.6)">
<path d="M0,-8.4 L28,-8.4 A4.5,8.4 0 0 1 28,8.4 L0,8.4 Z" class="pf" />
<ellipse cx="0" cy="0" rx="4.8" ry="8.4" class="pf" style="stroke-width:1.3"/>
<ellipse cx="0.6" cy="0" rx="3.2" ry="6" class="p" />
</g>
<g transform="translate(327.5 413) rotate(187)">
<ellipse cx="3.0" cy="0" rx="3.0" ry="8.2" class="pf" />
<ellipse cx="1.8" cy="0" rx="3.0" ry="8.2" class="pf" />
<path d="M1.5,-6.2 L-4.5,-6.2 L-6.0,0 L-4.5,6.2 L1.5,6.2 Z" class="pd" />
<path d="M-5.0,-2.2 L1.2,-2.2 M-5.0,2.2 L1.2,2.2" stroke="#fff" stroke-width="0.8" fill="none"/>
</g>
<g transform="translate(304.5 411.7) rotate(8)">
<ellipse cx="0" cy="0" rx="3.2550000000000003" ry="5.460000000000001" class="pg" />
<ellipse cx="0.42000000000000004" cy="0" rx="1.5750000000000002" ry="2.7300000000000004" class="pf" />
</g>
<g transform="translate(271.5 453) rotate(103)">
<ellipse cx="3.2" cy="0" rx="2.6" ry="7.8" class="pf" />
<ellipse cx="2" cy="0" rx="2.6" ry="7.8" class="pf" />
<path d="M1.5,-6 L-4,-6 L-5.2,0 L-4,6 L1.5,6 Z" class="pd" />
<path d="M-4.5,-2 L1.2,-2 M-4.5,2 L1.2,2" stroke="#fff" stroke-width="0.8" fill="none"/>
</g>
<g transform="translate(264.5 500) rotate(-79)">
<path d="M0,-3.2 L12.5,-3.2 L12.5,3.2 L0,3.2 Z" class="pf" />
<ellipse cx="12.5" cy="0" rx="1" ry="3.2" class="pf" />
<ellipse cx="0" cy="0" rx="1.8" ry="5" class="pf" />
<path d="M0,-4 L-4,-4 L-5,0 L-4,4 L0,4 Z" class="pf" />
<path d="M-4.5,-1.4 L0,-1.4 M-4.5,1.4 L0,1.4" class="p" />
</g>
<path d="M160,521.5 C162.6,519.1 169.7,519.8 171.8,522.6 C174.4,520.2 181.5,520.9 183.7,523.7 C186.3,521.3 193.4,521.9 195.5,524.8 C198.1,522.4 205.2,523.0 207.3,525.8 C209.9,523.5 217.0,524.1 219.2,526.9 C221.8,524.5 228.9,525.2 231.0,528.0 L227,556.5 C224.4,558.8 217.6,558.0 215.7,555.2 C213.1,557.5 206.3,556.7 204.3,553.8 C201.8,556.1 195.0,555.3 193.0,552.5 C190.4,554.8 183.6,554.0 181.7,551.2 C179.1,553.5 172.3,552.7 170.3,549.8 C167.8,552.1 161.0,551.3 159.0,548.5 C151,545.5 152,524.5 160,521.5 Z" fill="#151515" stroke="#111" stroke-width="0.9"/>
<path d="M175,549 L178,545 M188,550.5 L191,546.5 M201,552 L204,548 M214,553.5 L217,549.5 M170,524.5 L172,528 M183,525.5 L185,529 M196,526.5 L198,530 M209,527.5 L211,531" stroke="#777" stroke-width="0.8" fill="none"/>
<path d="M229,531 L247,529.5 C254,531 259,540 258.5,549 L257,555.5 L240,557 L229,556 Z" class="pf" />
<path d="M232.5,534 L245.5,533 C250,536 252,542 251.5,548 L233,552 Z M229,556 L233,552 M229,531 L232.5,534 M251.5,548 L257,555.5" class="p" />
<ellipse cx="241.5" cy="541.5" rx="3.3" ry="3.6" class="pf" />
<ellipse cx="241.8" cy="541.8" rx="1.8" ry="2" class="p" />
<path d="M254,532 C256,530 257.5,530.5 257.5,533" class="p" />
<g transform="translate(446 230.5) rotate(8)">
<path d="M0,-5.75 L-7.5,-5.75 L-8.879999999999999,0 L-7.5,5.75 L0,5.75 Z" class="pf" />
<path d="M0,-2.3 L-8.075,-2.3 M0,2.3 L-8.075,2.3" class="p" />
<ellipse cx="0" cy="0" rx="4.760000000000001" ry="8.5" class="pf" />
<path d="M0.9,-4.5 L19.5,-4.5 A2.5200000000000005,4.5 0 0 1 19.5,4.5 L0.9,4.5 Z" class="pf" />
<ellipse cx="19.5" cy="0" rx="2.5200000000000005" ry="4.5" class="pf" />
<ellipse cx="19.5" cy="0" rx="1.5120000000000002" ry="2.6999999999999997" class="pd" />
</g>
<g transform="translate(817.5 280.5) rotate(187.5)">
<path d="M0,-4.75 L22,-4.75 A2.85,4.75 0 0 1 22,4.75 L0,4.75 Z" class="pf" />
<ellipse cx="2" cy="0" rx="6.84" ry="9.5" class="pf" style="stroke-width:1.8"/>
<ellipse cx="0.6" cy="0" rx="6.460000000000001" ry="8.93" class="pf" style="stroke-width:1.2"/>
<path d="M0,-7.6000000000000005 L-5.130000000000001,-6.992000000000001 L-5.130000000000001,6.992000000000001 L0,7.6000000000000005 Z" class="pd" />
<path d="M0.2,-2.736 L-4.75,-2.5840000000000005 L-4.75,2.5840000000000005 L0.2,2.736 Z" fill="#fff"/>
<path d="M0.2,-6.46 L-3.8000000000000003,-6.080000000000001 L-3.8000000000000003,-4.180000000000001 L0.2,-4.408 Z M0.2,6.46 L-3.8000000000000003,6.080000000000001 L-3.8000000000000003,4.180000000000001 L0.2,4.408 Z" fill="#999"/>
<ellipse cx="-5.130000000000001" cy="0" rx="3.8000000000000003" ry="7.0680000000000005" class="pd" />
<ellipse cx="-5.51" cy="0" rx="1.71" ry="3.192" fill="none" stroke="#999" stroke-width="0.8"/>
</g>
<g transform="translate(745.5 310.5) rotate(7.5)">
<path d="M2,-3.1 L10.5,-3.1 L10.5,3.1 L2,3.1 Z" class="pf" />
<path d="M10.5,-2.6 L13.5,-2.6 L13.5,2.6 L10.5,2.6 Z" class="pd" />
<ellipse cx="0" cy="0" rx="3.9" ry="7.6" class="pf" />
<ellipse cx="1.5" cy="0" rx="3.3" ry="6.6" class="pf" />
</g>
<g transform="translate(768.3 313) rotate(8)">
<ellipse cx="0" cy="0" rx="3.4100000000000006" ry="5.720000000000001" class="pg" />
<ellipse cx="0.44000000000000006" cy="0" rx="1.6500000000000001" ry="2.8600000000000003" class="pf" />
</g>
<g transform="translate(785.8 314.5) rotate(8)">
<ellipse cx="-1.3" cy="0" rx="6" ry="10" class="pf" />
<ellipse cx="0" cy="0" rx="6" ry="10" class="pf" />
<ellipse cx="0.8" cy="0" rx="3" ry="5" class="p" />
<ellipse cx="1.3" cy="0" rx="2" ry="3.6" class="p" />
</g>
<path d="M823,311 L829,307.6 L837,308.4 L841.5,315 L840,324 L835,330 L833,331 L832.5,337 L838,362 L837,366 L810,388 L806,392 L799,391 L795.6,384 L797,375 L803,369 L812,364 L813,356 L811,348 L812,340 Z" class="pf" />
<path d="M825,312 L814,340 L813.6,348 L815.6,357 L814.4,365 L805,371 L799,378" class="p" />
<ellipse cx="837.5" cy="320" rx="3" ry="5" class="pf" transform="rotate(8 837.5 320)" />
<ellipse cx="838.2" cy="320.2" rx="1.9" ry="3.6" class="p" transform="rotate(8 838.2 320.2)" />
<ellipse cx="806.6" cy="382.2" rx="1.5" ry="1.7" class="p" />
<path d="M824,342 L834,340.5 L834,356 L824,355 Z" class="pf" />
<ellipse cx="824" cy="348.5" rx="2.6" ry="7" class="pf" transform="rotate(5 824 348.5)" />
<path d="M834,337 L848,335.7 L861,344 L857,360 L845,362 L831.7,354 Z" class="pf" />
<path d="M848,335.7 L845,354 L857,360 M845,354 L831.7,354 M836.5,338.5 L834,352" class="p" />
<ellipse cx="842.7" cy="347.5" rx="1.6" ry="1.9" class="pd" />
<ellipse cx="852" cy="352" rx="1.6" ry="2.3" class="p" transform="rotate(10 852 352)" />
<ellipse cx="832" cy="361" rx="1.5" ry="2.2" class="p" />
<g transform="translate(883.5 367.7) rotate(187.5)">
<path d="M0,-3.7 L18,-3.7 A2.22,3.7 0 0 1 18,3.7 L0,3.7 Z" class="pf" />
<ellipse cx="2" cy="0" rx="5.22" ry="7.25" class="pf" style="stroke-width:1.8"/>
<ellipse cx="0.6" cy="0" rx="4.930000000000001" ry="6.8149999999999995" class="pf" style="stroke-width:1.2"/>
<path d="M0,-5.800000000000001 L-3.915,-5.336000000000001 L-3.915,5.336000000000001 L0,5.800000000000001 Z" class="pd" />
<path d="M0.2,-2.088 L-3.625,-1.9720000000000004 L-3.625,1.9720000000000004 L0.2,2.088 Z" fill="#fff"/>
<path d="M0.2,-4.930000000000001 L-2.9000000000000004,-4.640000000000001 L-2.9000000000000004,-3.190000000000001 L0.2,-3.3640000000000003 Z M0.2,4.930000000000001 L-2.9000000000000004,4.640000000000001 L-2.9000000000000004,3.190000000000001 L0.2,3.3640000000000003 Z" fill="#999"/>
<ellipse cx="-3.915" cy="0" rx="2.9000000000000004" ry="5.394000000000001" class="pd" />
<ellipse cx="-4.205" cy="0" rx="1.305" ry="2.4360000000000004" fill="none" stroke="#999" stroke-width="0.8"/>
</g>
<g transform="translate(876.5 389.3) rotate(187.5)">
<path d="M0,-3.7 L18,-3.7 A2.22,3.7 0 0 1 18,3.7 L0,3.7 Z" class="pf" />
<ellipse cx="2" cy="0" rx="5.22" ry="7.25" class="pf" style="stroke-width:1.8"/>
<ellipse cx="0.6" cy="0" rx="4.930000000000001" ry="6.8149999999999995" class="pf" style="stroke-width:1.2"/>
<path d="M0,-5.800000000000001 L-3.915,-5.336000000000001 L-3.915,5.336000000000001 L0,5.800000000000001 Z" class="pd" />
<path d="M0.2,-2.088 L-3.625,-1.9720000000000004 L-3.625,1.9720000000000004 L0.2,2.088 Z" fill="#fff"/>
<path d="M0.2,-4.930000000000001 L-2.9000000000000004,-4.640000000000001 L-2.9000000000000004,-3.190000000000001 L0.2,-3.3640000000000003 Z M0.2,4.930000000000001 L-2.9000000000000004,4.640000000000001 L-2.9000000000000004,3.190000000000001 L0.2,3.3640000000000003 Z" fill="#999"/>
<ellipse cx="-3.915" cy="0" rx="2.9000000000000004" ry="5.394000000000001" class="pd" />
<ellipse cx="-4.205" cy="0" rx="1.305" ry="2.4360000000000004" fill="none" stroke="#999" stroke-width="0.8"/>
</g>
<g transform="translate(892.3 351.5) rotate(8)">
<ellipse cx="-1.2" cy="0" rx="3.6" ry="5.2" class="pd" />
<ellipse cx="1.0" cy="0" rx="3.6" ry="5.2" class="pd" />
<ellipse cx="1.3" cy="0" rx="1.7" ry="2.8" fill="none" stroke="#fff" stroke-width="0.8"/>
</g>
<g transform="translate(0 0)">
<path d="M957.5,313.75 C959,312 962,311.8 964,312.5 L970,315.5 C973,319 973.75,322 973.75,325 L975,360 C975,365 973,367.5 971,367.5 L965,366 C963,364 962.5,360 962,355 L960,344 L958.5,338 L955,335.5 L917.5,370.5 L910,372.5 L906,371 L900,373 L897.5,379 L896.5,372 L899,368 L905,367 Z" class="pf" />
<path d="M961,317.5 L911,367.5 L910,372.5 M905,367 L911,367.5" class="p" />
<path d="M955,334 L961,333.5 L961,339 L955,338.5 Z" class="pf" />
<ellipse cx="966" cy="333.75" rx="5.2" ry="5.8" class="pf" />
<path d="M961,331 C960,333 960,336 961.5,338" class="p" />
<ellipse cx="972.3" cy="360" rx="1.2" ry="2" class="p" />
<path d="M903,373.75 L955.5,379.5 L954,393.75 L899,388.75 C894.5,386.75 898.5,375.75 903,373.75 Z" fill="#2b2b2b" stroke="#222" stroke-width="0.9"/>
<path d="M905.4,374.8 Q901.2,381.5 901.5,388.2 M907.8,375.1 Q903.7,381.7 904.0,388.4 M910.2,375.3 Q906.1,382.0 906.5,388.6 M912.5,375.6 Q908.6,382.2 909.0,388.9 M914.9,375.9 Q911.0,382.5 911.5,389.1 M917.3,376.1 Q913.5,382.7 914.0,389.3 M919.7,376.4 Q915.9,383.0 916.5,389.5 M922.1,376.6 Q918.3,383.2 919.0,389.8 M924.5,376.9 Q920.8,383.4 921.5,390.0 M926.9,377.2 Q923.2,383.7 924.0,390.2 M929.2,377.4 Q925.7,383.9 926.5,390.4 M931.6,377.7 Q928.1,384.2 929.0,390.7 M934.0,377.9 Q930.6,384.4 931.5,390.9 M936.4,378.2 Q933.0,384.7 934.0,391.1 M938.8,378.5 Q935.4,384.9 936.5,391.4 M941.2,378.7 Q937.9,385.2 939.0,391.6 M943.6,379.0 Q940.3,385.4 941.5,391.8 M946.0,379.3 Q942.8,385.6 944.0,392.0 M948.3,379.5 Q945.2,385.9 946.5,392.3 M950.7,379.8 Q947.7,386.1 949.0,392.5 M953.1,380.0 Q950.1,386.4 951.5,392.7 " fill="none" stroke="#858585" stroke-width="0.6"/>
<ellipse cx="955" cy="386.8" rx="3.4" ry="7.1" class="pf" transform="rotate(5 955 386.8)" />
<path d="M899.5,374 C896,378 895.5,385 898,389.5" class="p" />
</g>
<g transform="translate(1003.75 365) rotate(-56)">
<path d="M4.8,-2.3 L20.8,-2.3 L20.8,2.3 L4.8,2.3 Z" class="pf" />
<path d="M18.3,-2 L20.8,-2 L20.8,2 L18.3,2 Z" class="pd" />
</g>
<ellipse cx="1002.55" cy="365" rx="5.5" ry="8" class="pf" transform="rotate(8 1002.55 365)" />
<ellipse cx="1003.75" cy="365" rx="5.5" ry="8" class="pf" transform="rotate(8 1003.75 365)" />
<ellipse cx="1004.25" cy="365" rx="3.41" ry="5.28" class="pf" transform="rotate(8 1004.25 365)" />
<ellipse cx="1004.65" cy="365.2" rx="1.98" ry="3.2" class="pd" transform="rotate(8 1004.65 365.2)" />
<ellipse cx="1033.25" cy="368.25" rx="4.2" ry="7.5" class="pf" transform="rotate(8 1033.25 368.25)" />
<ellipse cx="1034.25" cy="368.25" rx="4.2" ry="7.5" class="pf" transform="rotate(8 1034.25 368.25)" />
<ellipse cx="1034.55" cy="368.25" rx="1.47" ry="2.475" class="p" transform="rotate(8 1034.55 368.25)" />
<g transform="translate(1072.5 374.2) rotate(187.5)">
<path d="M0,-2.8 L25,-2.8 A1.2,2.8 0 0 1 25,2.8 L0,2.8 Z" class="pf" />
<ellipse cx="25" cy="0" rx="1.2" ry="2.8" class="pf" />
<ellipse cx="1.8" cy="0" rx="3.15" ry="5.25" class="pd" />
<ellipse cx="-1.5" cy="0" rx="3.4650000000000003" ry="4.935" class="pd" />
<path d="M-1.5,-4.935 L1.8,-5.25 L1.8,5.25 L-1.5,4.935 Z" class="pd" />
<ellipse cx="-2" cy="0" rx="1.4700000000000002" ry="2.31" fill="none" stroke="#ddd" stroke-width="0.7"/>
</g>
<g transform="translate(1024 331) rotate(-56)">
<ellipse cx="-1.14" cy="0" rx="3.42" ry="4.9399999999999995" class="pd" />
<ellipse cx="0.95" cy="0" rx="3.42" ry="4.9399999999999995" class="pd" />
<ellipse cx="1.2349999999999999" cy="0" rx="1.615" ry="2.6599999999999997" fill="none" stroke="#fff" stroke-width="0.8"/>
</g>
<g transform="translate(1032.5 317.5) rotate(-59.93141717813756)">
<path d="M0,-5.0 L21.95449840010015,-5.0 A2.2,5.0 0 0 1 21.95449840010015,5.0 L0,5.0 Z" class="pf" />
<path d="M0,-2.0 L21.95449840010015,-2.0 M0,2.2 L21.95449840010015,2.2" class="p" />
<ellipse cx="0" cy="0" rx="2.4" ry="5.0" class="pf" />
<ellipse cx="0" cy="0" rx="1.3" ry="2.8000000000000003" class="pd" />
<path d="M9.879524280045068,-0.6 L13.17269904006009,-0.6" class="p" />
</g>
<g transform="translate(1049.5 284.5) rotate(-56)">
<ellipse cx="-1.2" cy="0" rx="3.6" ry="5.2" class="pd" />
<ellipse cx="1.0" cy="0" rx="3.6" ry="5.2" class="pd" />
<ellipse cx="1.3" cy="0" rx="1.7" ry="2.8" fill="none" stroke="#fff" stroke-width="0.8"/>
</g>
<g transform="translate(1068.9 251.5) rotate(120)">
<path d="M4.919999999999999,-2.3 L19.919999999999998,-2.3 L19.919999999999998,2.3 L4.919999999999999,2.3 Z" class="pf" />
<path d="M17.419999999999998,-2 L19.919999999999998,-2 L19.919999999999998,2 L17.419999999999998,2 Z" class="pd" />
</g>
<ellipse cx="1067.7" cy="251.5" rx="6.3" ry="8.2" class="pf" transform="rotate(8 1067.7 251.5)" />
<ellipse cx="1068.9" cy="251.5" rx="6.3" ry="8.2" class="pf" transform="rotate(8 1068.9 251.5)" />
<ellipse cx="1069.4" cy="251.5" rx="3.9059999999999997" ry="5.412" class="pf" transform="rotate(8 1069.4 251.5)" />
<ellipse cx="1069.8000000000002" cy="251.7" rx="2.268" ry="3.28" class="pd" transform="rotate(8 1069.8000000000002 251.7)" />
<g transform="translate(1024.5 247.5) rotate(7.5)">
<path d="M0,-5.3 L24,-5.3 A2.3,5.3 0 0 1 24,5.3 L0,5.3 Z" class="pf" />
<ellipse cx="0" cy="0" rx="2.3" ry="5.3" class="pf" />
<ellipse cx="24" cy="0" rx="2.2" ry="5.2" class="pd" />
<ellipse cx="24.3" cy="0" rx="1" ry="2.8" fill="#fff"/>
</g>
<g transform="translate(0 0)" style="stroke-width:1.25">
<path d="M990.1,215.6 L998.4,215.8 L1000.2,218.8 L1003.4,227 L1009,233 L1011.7,241.7 L1011.2,248.1 L1007.1,250.9 L1002.5,250 L999.8,244.5 L997,240.3 L988.8,238 L984.6,226.6 Z" class="pf" style="stroke-width:1.3"/>
<path d="M984.6,226.6 L987,222.9 L995.7,222 L998.4,215.8 M987,222.9 L990.1,215.6 M987,222.9 L988.8,237 M995.7,222 L994.7,228 M988.5,219.5 L996.8,219" class="p" style="stroke-width:1.2"/>
<ellipse cx="998" cy="229.3" rx="2.2" ry="4.8" class="pd" transform="rotate(8 998 229.3)" />
<path d="M994.7,228 L995,236 L997.5,239.5 L1000.5,236 L1000,224 Z" class="pd" />
<path d="M999.3,235.3 L1002.5,231.2 M1001.6,239 L1006.2,232.5 M1003.9,241.7 L1008,235.3 M1006.2,244.5 L1009.9,239 M994.5,238.5 L999.8,244.5 L1005,248.5" class="p" style="stroke-width:1.2"/>
<ellipse cx="990.1" cy="229.3" rx="1.3" ry="1.8" class="p" />
<ellipse cx="996.6" cy="237.1" rx="1.2" ry="1.5" class="pd" />
<ellipse cx="1008" cy="247.2" rx="1.3" ry="1.8" class="p" />
</g>
<g transform="translate(1027 167.3) rotate(120)">
<path d="M0,-2.2 L16,-2.2 A1.2,2.2 0 0 1 16,2.2 L0,2.2 Z" class="pf" />
<ellipse cx="16" cy="0" rx="1.2" ry="2.2" class="pf" />
<ellipse cx="1.8" cy="0" rx="3.15" ry="5.25" class="pd" />
<ellipse cx="-1.5" cy="0" rx="3.4650000000000003" ry="4.935" class="pd" />
<path d="M-1.5,-4.935 L1.8,-5.25 L1.8,5.25 L-1.5,4.935 Z" class="pd" />
<ellipse cx="-2" cy="0" rx="1.4700000000000002" ry="2.31" fill="none" stroke="#ddd" stroke-width="0.7"/>
</g>
<g transform="translate(964.6 240.2) rotate(8)">
<ellipse cx="-1.14" cy="0" rx="3.42" ry="4.9399999999999995" class="pd" />
<ellipse cx="0.95" cy="0" rx="3.42" ry="4.9399999999999995" class="pd" />
<ellipse cx="1.2349999999999999" cy="0" rx="1.615" ry="2.6599999999999997" fill="none" stroke="#fff" stroke-width="0.8"/>
</g>
<ellipse cx="1094.8" cy="255.7" rx="4.3" ry="8.2" class="pf" transform="rotate(8 1094.8 255.7)" />
<ellipse cx="1095.8" cy="255.7" rx="4.3" ry="8.2" class="pf" transform="rotate(8 1095.8 255.7)" />
<ellipse cx="1096.1" cy="255.7" rx="1.505" ry="2.706" class="p" transform="rotate(8 1096.1 255.7)" />
<g transform="translate(1152 262.6) rotate(189)">
<path d="M0,-2.7 L44,-2.7 A1.2,2.7 0 0 1 44,2.7 L0,2.7 Z" class="pf" />
<ellipse cx="44" cy="0" rx="1.2" ry="2.7" class="pf" />
<path d="M27,-2.7 L27,2.7" class="p" />
<ellipse cx="1.8" cy="0" rx="3.15" ry="5.25" class="pd" />
<ellipse cx="-1.5" cy="0" rx="3.4650000000000003" ry="4.935" class="pd" />
<path d="M-1.5,-4.935 L1.8,-5.25 L1.8,5.25 L-1.5,4.935 Z" class="pd" />
<ellipse cx="-2" cy="0" rx="1.4700000000000002" ry="2.31" fill="none" stroke="#ddd" stroke-width="0.7"/>
</g>
<g transform="translate(-190.5 -195.5)">
<path d="M957.5,313.75 C959,312 962,311.8 964,312.5 L970,315.5 C973,319 973.75,322 973.75,325 L975,360 C975,365 973,367.5 971,367.5 L965,366 C963,364 962.5,360 962,355 L960,344 L958.5,338 L955,335.5 L917.5,370.5 L910,372.5 L906,371 L900,373 L897.5,379 L896.5,372 L899,368 L905,367 Z" class="pf" />
<path d="M961,317.5 L911,367.5 L910,372.5 M905,367 L911,367.5" class="p" />
<path d="M955,334 L961,333.5 L961,339 L955,338.5 Z" class="pf" />
<ellipse cx="966" cy="333.75" rx="5.2" ry="5.8" class="pf" />
<path d="M961,331 C960,333 960,336 961.5,338" class="p" />
<ellipse cx="972.3" cy="360" rx="1.2" ry="2" class="p" />
<path d="M903,373.75 L955.5,379.5 L954,393.75 L899,388.75 C894.5,386.75 898.5,375.75 903,373.75 Z" fill="#2b2b2b" stroke="#222" stroke-width="0.9"/>
<path d="M905.4,374.8 Q901.2,381.5 901.5,388.2 M907.8,375.1 Q903.7,381.7 904.0,388.4 M910.2,375.3 Q906.1,382.0 906.5,388.6 M912.5,375.6 Q908.6,382.2 909.0,388.9 M914.9,375.9 Q911.0,382.5 911.5,389.1 M917.3,376.1 Q913.5,382.7 914.0,389.3 M919.7,376.4 Q915.9,383.0 916.5,389.5 M922.1,376.6 Q918.3,383.2 919.0,389.8 M924.5,376.9 Q920.8,383.4 921.5,390.0 M926.9,377.2 Q923.2,383.7 924.0,390.2 M929.2,377.4 Q925.7,383.9 926.5,390.4 M931.6,377.7 Q928.1,384.2 929.0,390.7 M934.0,377.9 Q930.6,384.4 931.5,390.9 M936.4,378.2 Q933.0,384.7 934.0,391.1 M938.8,378.5 Q935.4,384.9 936.5,391.4 M941.2,378.7 Q937.9,385.2 939.0,391.6 M943.6,379.0 Q940.3,385.4 941.5,391.8 M946.0,379.3 Q942.8,385.6 944.0,392.0 M948.3,379.5 Q945.2,385.9 946.5,392.3 M950.7,379.8 Q947.7,386.1 949.0,392.5 M953.1,380.0 Q950.1,386.4 951.5,392.7 " fill="none" stroke="#858585" stroke-width="0.6"/>
<ellipse cx="955" cy="386.8" rx="3.4" ry="7.1" class="pf" transform="rotate(5 955 386.8)" />
<path d="M899.5,374 C896,378 895.5,385 898,389.5" class="p" />
</g>
<g transform="translate(766 163.5) rotate(8)">
<ellipse cx="-1.02" cy="0" rx="3.06" ry="4.42" class="pd" />
<ellipse cx="0.85" cy="0" rx="3.06" ry="4.42" class="pd" />
<ellipse cx="1.105" cy="0" rx="1.4449999999999998" ry="2.38" fill="none" stroke="#fff" stroke-width="0.8"/>
</g>
<g transform="translate(792.3 166.8) rotate(-56)">
<path d="M5.159999999999999,-2.3 L19.66,-2.3 L19.66,2.3 L5.159999999999999,2.3 Z" class="pf" />
<path d="M17.16,-2 L19.66,-2 L19.66,2 L17.16,2 Z" class="pd" />
</g>
<ellipse cx="791.0999999999999" cy="166.8" rx="5.2" ry="8.6" class="pf" transform="rotate(8 791.0999999999999 166.8)" />
<ellipse cx="792.3" cy="166.8" rx="5.2" ry="8.6" class="pf" transform="rotate(8 792.3 166.8)" />
<ellipse cx="792.8" cy="166.8" rx="3.224" ry="5.676" class="pf" transform="rotate(8 792.8 166.8)" />
<ellipse cx="793.1999999999999" cy="167.0" rx="1.8719999999999999" ry="3.44" class="pd" transform="rotate(8 793.1999999999999 167.0)" />
<ellipse cx="803.5" cy="168" rx="4.3" ry="8" class="pf" transform="rotate(8 803.5 168)" />
<ellipse cx="804.5" cy="168" rx="4.3" ry="8" class="pf" transform="rotate(8 804.5 168)" />
<ellipse cx="804.8" cy="168" rx="1.505" ry="2.64" class="p" transform="rotate(8 804.8 168)" />
<g transform="translate(835.5 172.4) rotate(187.5)">
<path d="M0,-2.8 L25,-2.8 A1.2,2.8 0 0 1 25,2.8 L0,2.8 Z" class="pf" />
<ellipse cx="25" cy="0" rx="1.2" ry="2.8" class="pf" />
<ellipse cx="1.8" cy="0" rx="3.15" ry="5.25" class="pd" />
<ellipse cx="-1.5" cy="0" rx="3.4650000000000003" ry="4.935" class="pd" />
<path d="M-1.5,-4.935 L1.8,-5.25 L1.8,5.25 L-1.5,4.935 Z" class="pd" />
<ellipse cx="-2" cy="0" rx="1.4700000000000002" ry="2.31" fill="none" stroke="#ddd" stroke-width="0.7"/>
</g>
<g transform="translate(806 144.5) rotate(-56)">
<ellipse cx="-1.14" cy="0" rx="3.42" ry="4.9399999999999995" class="pd" />
<ellipse cx="0.95" cy="0" rx="3.42" ry="4.9399999999999995" class="pd" />
<ellipse cx="1.2349999999999999" cy="0" rx="1.615" ry="2.6599999999999997" fill="none" stroke="#fff" stroke-width="0.8"/>
</g>
<g transform="translate(809.5 138.5) rotate(-59.2645122980799)">
<path d="M0,-5.0 L21.523243250030884,-5.0 A2.2,5.0 0 0 1 21.523243250030884,5.0 L0,5.0 Z" class="pf" />
<path d="M0,-2.0 L21.523243250030884,-2.0 M0,2.2 L21.523243250030884,2.2" class="p" />
<ellipse cx="0" cy="0" rx="2.4" ry="5.0" class="pf" />
<ellipse cx="0" cy="0" rx="1.3" ry="2.8000000000000003" class="pd" />
<path d="M9.685459462513897,-0.6 L12.91394595001853,-0.6" class="p" />
</g>
<g transform="translate(822.3 114.5) rotate(-56)">
<ellipse cx="-1.14" cy="0" rx="3.42" ry="4.9399999999999995" class="pd" />
<ellipse cx="0.95" cy="0" rx="3.42" ry="4.9399999999999995" class="pd" />
<ellipse cx="1.2349999999999999" cy="0" rx="1.615" ry="2.6599999999999997" fill="none" stroke="#fff" stroke-width="0.8"/>
</g>
<g transform="translate(836.5 91.5) rotate(120)">
<path d="M5.04,-2.3 L20.04,-2.3 L20.04,2.3 L5.04,2.3 Z" class="pf" />
<path d="M17.54,-2 L20.04,-2 L20.04,2 L17.54,2 Z" class="pd" />
</g>
<ellipse cx="835.3" cy="91.5" rx="6.3" ry="8.4" class="pf" transform="rotate(8 835.3 91.5)" />
<ellipse cx="836.5" cy="91.5" rx="6.3" ry="8.4" class="pf" transform="rotate(8 836.5 91.5)" />
<ellipse cx="837.0" cy="91.5" rx="3.9059999999999997" ry="5.5440000000000005" class="pf" transform="rotate(8 837.0 91.5)" />
<ellipse cx="837.4" cy="91.7" rx="2.268" ry="3.3600000000000003" class="pd" transform="rotate(8 837.4 91.7)" />
<g transform="translate(803.5 87) rotate(7.5)">
<path d="M0,-5.3 L24,-5.3 A2.3,5.3 0 0 1 24,5.3 L0,5.3 Z" class="pf" />
<ellipse cx="0" cy="0" rx="2.3" ry="5.3" class="pf" />
<ellipse cx="24" cy="0" rx="2.2" ry="5.2" class="pd" />
<ellipse cx="24.3" cy="0" rx="1" ry="2.8" fill="#fff"/>
</g>
<g transform="translate(-210.5 -159)" style="stroke-width:1.25">
<path d="M990.1,215.6 L998.4,215.8 L1000.2,218.8 L1003.4,227 L1009,233 L1011.7,241.7 L1011.2,248.1 L1007.1,250.9 L1002.5,250 L999.8,244.5 L997,240.3 L988.8,238 L984.6,226.6 Z" class="pf" style="stroke-width:1.3"/>
<path d="M984.6,226.6 L987,222.9 L995.7,222 L998.4,215.8 M987,222.9 L990.1,215.6 M987,222.9 L988.8,237 M995.7,222 L994.7,228 M988.5,219.5 L996.8,219" class="p" style="stroke-width:1.2"/>
<ellipse cx="998" cy="229.3" rx="2.2" ry="4.8" class="pd" transform="rotate(8 998 229.3)" />
<path d="M994.7,228 L995,236 L997.5,239.5 L1000.5,236 L1000,224 Z" class="pd" />
<path d="M999.3,235.3 L1002.5,231.2 M1001.6,239 L1006.2,232.5 M1003.9,241.7 L1008,235.3 M1006.2,244.5 L1009.9,239 M994.5,238.5 L999.8,244.5 L1005,248.5" class="p" style="stroke-width:1.2"/>
<ellipse cx="990.1" cy="229.3" rx="1.3" ry="1.8" class="p" />
<ellipse cx="996.6" cy="237.1" rx="1.2" ry="1.5" class="pd" />
<ellipse cx="1008" cy="247.2" rx="1.3" ry="1.8" class="p" />
</g>
<g transform="translate(795.5 42.5) rotate(112)">
<path d="M0,-2.2 L15,-2.2 A1.2,2.2 0 0 1 15,2.2 L0,2.2 Z" class="pf" />
<ellipse cx="15" cy="0" rx="1.2" ry="2.2" class="pf" />
<ellipse cx="1.8" cy="0" rx="3.0" ry="5.0" class="pd" />
<ellipse cx="-1.5" cy="0" rx="3.3000000000000003" ry="4.699999999999999" class="pd" />
<path d="M-1.5,-4.699999999999999 L1.8,-5.0 L1.8,5.0 L-1.5,4.699999999999999 Z" class="pd" />
<ellipse cx="-2" cy="0" rx="1.4000000000000001" ry="2.2" fill="none" stroke="#ddd" stroke-width="0.7"/>
</g>
<g transform="translate(773.2 84.5) rotate(8)">
<ellipse cx="-1.02" cy="0" rx="3.06" ry="4.42" class="pd" />
<ellipse cx="0.85" cy="0" rx="3.06" ry="4.42" class="pd" />
<ellipse cx="1.105" cy="0" rx="1.4449999999999998" ry="2.38" fill="none" stroke="#fff" stroke-width="0.8"/>
</g>
<ellipse cx="846.7" cy="93" rx="4.3" ry="8" class="pf" transform="rotate(8 846.7 93)" />
<ellipse cx="847.7" cy="93" rx="4.3" ry="8" class="pf" transform="rotate(8 847.7 93)" />
<ellipse cx="848.0" cy="93" rx="1.505" ry="2.64" class="p" transform="rotate(8 848.0 93)" />
<g transform="translate(895.8 98.8) rotate(189)">
<path d="M0,-2.7 L43,-2.7 A1.2,2.7 0 0 1 43,2.7 L0,2.7 Z" class="pf" />
<ellipse cx="43" cy="0" rx="1.2" ry="2.7" class="pf" />
<path d="M27,-2.7 L27,2.7" class="p" />
<ellipse cx="1.8" cy="0" rx="3.15" ry="5.25" class="pd" />
<ellipse cx="-1.5" cy="0" rx="3.4650000000000003" ry="4.935" class="pd" />
<path d="M-1.5,-4.935 L1.8,-5.25 L1.8,5.25 L-1.5,4.935 Z" class="pd" />
<ellipse cx="-2" cy="0" rx="1.4700000000000002" ry="2.31" fill="none" stroke="#ddd" stroke-width="0.7"/>
</g>
<path d="M831.5,467.5 C834.2,465.1 841.8,465.8 844.1,468.6 C846.8,466.2 854.4,466.9 856.7,469.7 C859.4,467.3 867.0,467.9 869.2,470.8 C872.0,468.4 879.5,469.0 881.8,471.8 C884.6,469.5 892.1,470.1 894.4,472.9 C897.2,470.5 904.7,471.2 907.0,474.0 C920,477 918,501.5 905,504.5 C902.1,506.7 894.5,505.5 892.4,502.5 C889.5,504.7 881.9,503.5 879.8,500.5 C876.9,502.7 869.4,501.5 867.2,498.5 C864.3,500.7 856.8,499.5 854.7,496.5 C851.7,498.7 844.2,497.5 842.1,494.5 C839.2,496.7 831.6,495.5 829.5,492.5 Z" fill="#151515" stroke="#111" stroke-width="0.9"/>
<path d="M845,496 L848,492 M858,498 L861,494 M871,500 L874,496 M884,502 L887,498 M843,470.5 L845,474 M856,471.5 L858,475 M869,472.5 L871,476 M882,473.5 L884,477" stroke="#777" stroke-width="0.8" fill="none"/>
<ellipse cx="909.3" cy="488.5" rx="6.4" ry="12.3" class="pf" transform="rotate(8 909.3 488.5)" />
<ellipse cx="909.8" cy="488.6" rx="4.8" ry="10" class="p" transform="rotate(8 909.8 488.6)" />
<path d="M830,468 L817,469.5 C811.5,473 809,480 810,488.5 L812,491.5 L829,492 Z" class="pf" />
<path d="M829,471.5 L818.5,472.5 C815,476 813.5,481 814,486.5 L829,488 M812,491.5 L814,486.5" class="p" />
<ellipse cx="818.8" cy="478.5" rx="3.2" ry="3.6" class="pf" />
<ellipse cx="818.5" cy="478.8" rx="1.8" ry="2.1" class="p" />
<path d="M814,468.5 L819.5,469.5" class="p" />
<path d="M275.5,266.5 L489,289.5" class="c" stroke-dashoffset="0"/>
<path d="M343,291.8 L471,306" class="c" stroke-dashoffset="12"/>
<path d="M294,281.7 L265,456.5 L246.25,534" class="c"/>
<path d="M294.3,305 L273.3,450 L263.75,486.5" class="c" stroke-dashoffset="6"/>
<path d="M792,315.5 L961,337" class="c" stroke-dashoffset="3"/>
<path d="M664.8,341.6 L864,366.3" class="c" stroke-dashoffset="0"/>
<path d="M633,361.5 L857,387.5" class="c" stroke-dashoffset="0"/>
<path d="M842.5,347.5 L821,469" class="c" stroke-dashoffset="0"/>
</svg>
</body></html>
